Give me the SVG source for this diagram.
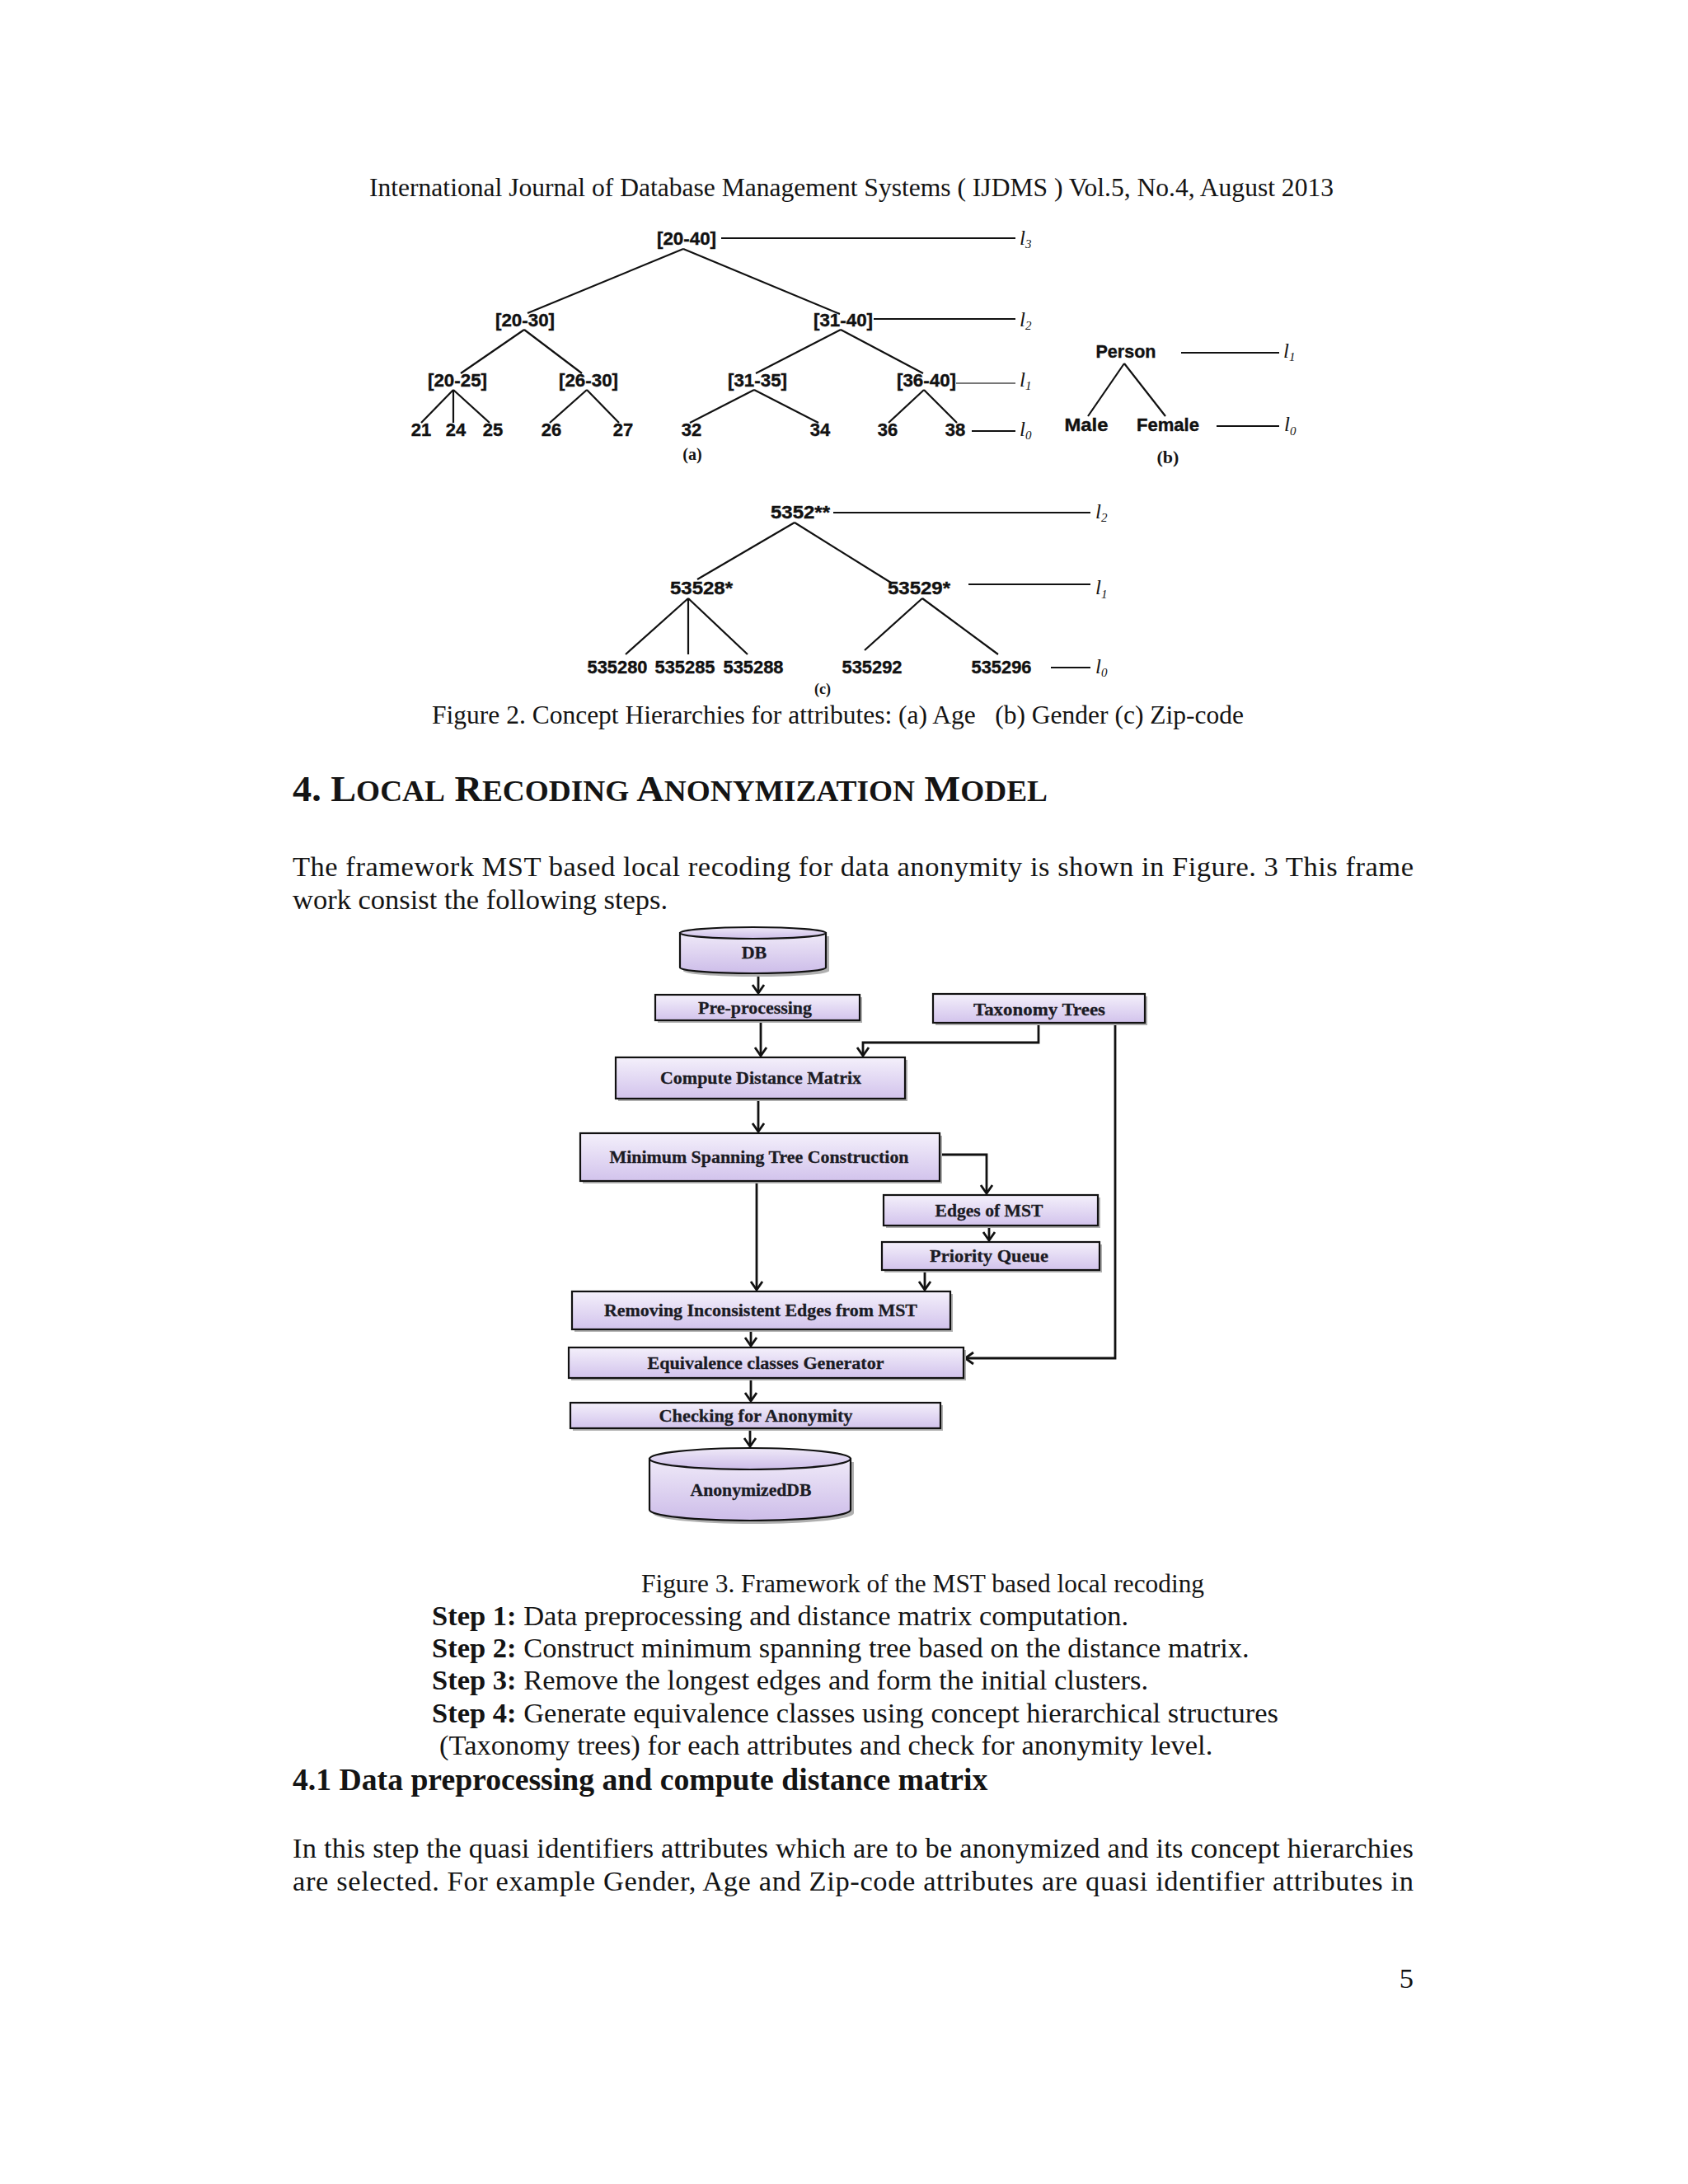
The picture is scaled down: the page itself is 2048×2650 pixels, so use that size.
<svg xmlns="http://www.w3.org/2000/svg" width="2048" height="2650" viewBox="0 0 2048 2650">
<style>
.tx{font-family:"Liberation Serif","Times New Roman",serif;fill:#141414}
.hd{font-size:31.4px}
.bd{font-size:34.5px}
.b{font-weight:bold}
.tl{font-family:"Liberation Sans",Arial,sans-serif;font-weight:bold;font-size:22px;text-anchor:middle;fill:#111;stroke:#111;stroke-width:0.4}
.lv{font-family:"Liberation Serif","Times New Roman",serif;font-style:italic;font-size:25px;fill:#151515}
.sub{font-size:15px}
.te{stroke:#111;stroke-width:2.2;fill:none}
.cap{font-family:"Liberation Serif","Times New Roman",serif;font-weight:bold;text-anchor:middle;fill:#151515}
.box{fill:url(#lav);stroke:#111;stroke-width:2.2}
.cyl{fill:url(#lav2);stroke:#111;stroke-width:2.2}
.shd{fill:#b0b0b0}
.bl{font-family:"Liberation Serif","Times New Roman",serif;font-weight:bold;font-size:22px;text-anchor:middle;fill:#1b1b24;stroke:#1b1b24;stroke-width:0.3}
.con{stroke:#111;stroke-width:2.8;fill:none;marker-end:url(#ah)}
</style>
<defs>
<linearGradient id="lav" x1="0" y1="0" x2="0" y2="1">
<stop offset="0" stop-color="#f4f0fb"/>
<stop offset="1" stop-color="#d2c3ec"/>
</linearGradient>
<linearGradient id="lav2" x1="0" y1="0" x2="0" y2="1">
<stop offset="0" stop-color="#efe9f8"/>
<stop offset="1" stop-color="#cdbde9"/>
</linearGradient>
<marker id="ah" markerUnits="userSpaceOnUse" markerWidth="16" markerHeight="18" refX="11" refY="8" orient="auto" overflow="visible">
<path d="M1,1 L11,8 L1,15" fill="none" stroke="#111" stroke-width="2.8"/>
</marker>
</defs>
<rect width="2048" height="2650" fill="#ffffff"/>

<!-- page text -->
<g id="page-text">
<text class="tx hd" x="448" y="238" textLength="1170" lengthAdjust="spacingAndGlyphs">International Journal of Database Management Systems ( IJDMS ) Vol.5, No.4, August 2013</text>
<text class="tx hd" x="524" y="878" textLength="985" lengthAdjust="spacingAndGlyphs">Figure 2. Concept Hierarchies for attributes: (a) Age&#160;&#160; (b) Gender (c) Zip-code</text>
<text class="tx b" x="355" y="972" font-size="44" textLength="916" lengthAdjust="spacingAndGlyphs">4. L<tspan font-size="35.5">OCAL</tspan> R<tspan font-size="35.5">ECODING</tspan> A<tspan font-size="35.5">NONYMIZATION</tspan> M<tspan font-size="35.5">ODEL</tspan></text>
<text class="tx bd" x="355" y="1063" textLength="1360" lengthAdjust="spacing">The framework MST based local recoding for data anonymity is shown in Figure. 3 This frame</text>
<text class="tx bd" x="355" y="1103">work consist the following steps.</text>
<text class="tx hd" x="778" y="1932" textLength="683" lengthAdjust="spacingAndGlyphs">Figure 3. Framework of the MST based local recoding</text>
<text class="tx bd" x="524" y="1972"><tspan class="b">Step 1:</tspan> Data preprocessing and distance matrix computation.</text>
<text class="tx bd" x="524" y="2011"><tspan class="b">Step 2:</tspan> Construct minimum spanning tree based on the distance matrix.</text>
<text class="tx bd" x="524" y="2050"><tspan class="b">Step 3:</tspan> Remove the longest edges and form the initial clusters.</text>
<text class="tx bd" x="524" y="2090"><tspan class="b">Step 4:</tspan> Generate equivalence classes using concept hierarchical structures</text>
<text class="tx bd" x="533" y="2129">(Taxonomy trees) for each attributes and check for anonymity level.</text>
<text class="tx b" x="355" y="2172" font-size="37.7">4.1 Data preprocessing and compute distance matrix</text>
<text class="tx bd" x="355" y="2254" textLength="1360" lengthAdjust="spacing">In this step the quasi identifiers attributes which are to be anonymized and its concept hierarchies</text>
<text class="tx bd" x="355" y="2294" textLength="1360" lengthAdjust="spacing">are selected. For example Gender, Age and Zip-code attributes are quasi identifier attributes in</text>
<text class="tx bd" x="1715" y="2412" text-anchor="end">5</text>
</g>

<!-- Figure 2 (a) -->
<g id="fig2a">
<g id="a-edges">
<path class="te" d="M829,302 L640,380 M829,302 L1019,381 M636,400 L559,453 M636,400 L706,453 M1020,400 L917,453 M1020,400 L1120,453 M550,473 L511,513 M550,473 L550,513 M550,473 L594,513 M712,473 L667,513 M712,473 L751,513 M915,473 L837,513 M915,473 L993,513 M1121,473 L1078,513 M1121,473 L1161,513"/>
<path class="te" d="M875,289 H1232 M1060,387 H1232 M1179,523 H1232"/>
<path d="M1160,465 H1232" stroke="#777" stroke-width="2"/>
</g>
<g id="a-n2040"><text class="tl" x="833" y="297" textLength="72" lengthAdjust="spacingAndGlyphs">[20-40]</text></g>
<g id="a-n2030"><text class="tl" x="637" y="396" textLength="72" lengthAdjust="spacingAndGlyphs">[20-30]</text></g>
<g id="a-n3140"><text class="tl" x="1023" y="396" textLength="72" lengthAdjust="spacingAndGlyphs">[31-40]</text></g>
<g id="a-n2025"><text class="tl" x="555" y="469" textLength="72" lengthAdjust="spacingAndGlyphs">[20-25]</text></g>
<g id="a-n2630"><text class="tl" x="714" y="469" textLength="72" lengthAdjust="spacingAndGlyphs">[26-30]</text></g>
<g id="a-n3135"><text class="tl" x="919" y="469" textLength="72" lengthAdjust="spacingAndGlyphs">[31-35]</text></g>
<g id="a-n3640"><text class="tl" x="1124" y="469" textLength="72" lengthAdjust="spacingAndGlyphs">[36-40]</text></g>
<g id="a-n21"><text class="tl" x="511" y="529">21</text></g>
<g id="a-n24"><text class="tl" x="553" y="529">24</text></g>
<g id="a-n25"><text class="tl" x="598" y="529">25</text></g>
<g id="a-n26"><text class="tl" x="669" y="529">26</text></g>
<g id="a-n27"><text class="tl" x="756" y="529">27</text></g>
<g id="a-n32"><text class="tl" x="839" y="529">32</text></g>
<g id="a-n34"><text class="tl" x="995" y="529">34</text></g>
<g id="a-n36"><text class="tl" x="1077" y="529">36</text></g>
<g id="a-n38"><text class="tl" x="1159" y="529">38</text></g>
<g id="a-levels">
<text class="lv" x="1237" y="297">l<tspan class="sub" dy="4">3</tspan></text>
<text class="lv" x="1237" y="396">l<tspan class="sub" dy="4">2</tspan></text>
<text class="lv" x="1237" y="469">l<tspan class="sub" dy="4">1</tspan></text>
<text class="lv" x="1237" y="529">l<tspan class="sub" dy="4">0</tspan></text>
</g>
<text class="cap" x="840" y="558" font-size="20">(a)</text>
</g>

<!-- Figure 2 (b) -->
<g id="fig2b">
<g id="b-edges">
<path class="te" d="M1364,441 L1320,505 M1364,441 L1414,505 M1433,428 H1552 M1476,517 H1552"/>
</g>
<g id="b-person"><text class="tl" x="1366" y="434" font-size="23" textLength="73" lengthAdjust="spacingAndGlyphs">Person</text></g>
<g id="b-male"><text class="tl" x="1318" y="523" font-size="23" textLength="53" lengthAdjust="spacingAndGlyphs">Male</text></g>
<g id="b-female"><text class="tl" x="1417" y="523" font-size="23" textLength="76" lengthAdjust="spacingAndGlyphs">Female</text></g>
<text class="lv" x="1557" y="434" font-size="27">l<tspan class="sub" font-size="17" dy="4">1</tspan></text>
<text class="lv" x="1558" y="523" font-size="27">l<tspan class="sub" font-size="17" dy="5">0</tspan></text>
<text class="cap" x="1417" y="562" font-size="22">(b)</text>
</g>

<!-- Figure 2 (c) -->
<g id="fig2c">
<g id="c-edges">
<path class="te" d="M964,634 L846,703 M964,634 L1081,707 M835,726 L759,794 M835,726 L835,794 M835,726 L907,794 M1119,726 L1049,789 M1119,726 L1211,794 M1011,622 H1323 M1175,709 H1323 M1275,810 H1323"/>
</g>
<g id="c-5352"><text class="tl" x="971" y="629" textLength="72" lengthAdjust="spacingAndGlyphs">5352**</text></g>
<g id="c-53528"><text class="tl" x="851" y="721" textLength="76" lengthAdjust="spacingAndGlyphs">53528*</text></g>
<g id="c-53529"><text class="tl" x="1115" y="721" textLength="76" lengthAdjust="spacingAndGlyphs">53529*</text></g>
<g id="c-535280"><text class="tl" x="749" y="817" textLength="73" lengthAdjust="spacingAndGlyphs">535280</text></g>
<g id="c-535285"><text class="tl" x="831" y="817" textLength="73" lengthAdjust="spacingAndGlyphs">535285</text></g>
<g id="c-535288"><text class="tl" x="914" y="817" textLength="73" lengthAdjust="spacingAndGlyphs">535288</text></g>
<g id="c-535292"><text class="tl" x="1058" y="817" textLength="73" lengthAdjust="spacingAndGlyphs">535292</text></g>
<g id="c-535296"><text class="tl" x="1215" y="817" textLength="73" lengthAdjust="spacingAndGlyphs">535296</text></g>
<text class="lv" x="1329" y="629">l<tspan class="sub" dy="4">2</tspan></text>
<text class="lv" x="1329" y="721">l<tspan class="sub" dy="5">1</tspan></text>
<text class="lv" x="1329" y="817">l<tspan class="sub" dy="4">0</tspan></text>
<text class="cap" x="998" y="842" font-size="18">(c)</text>
</g>

<!-- Figure 3 flowchart -->
<g id="fig3-connectors">
<path class="con" d="M920,1182 V1205"/>
<path class="con" d="M923,1239 V1281"/>
<path class="con" d="M1260,1242 V1265 H1047 V1281"/>
<path class="con" d="M920,1334 V1373"/>
<path class="con" d="M1141,1401 H1197 V1448"/>
<path class="con" d="M1200,1488 V1505"/>
<path class="con" d="M1122,1542 V1565"/>
<path class="con" d="M918,1434 V1565"/>
<path class="con" d="M911,1614 V1633"/>
<path class="con" d="M1353,1242 V1648 H1171"/>
<path class="con" d="M911,1673 V1700"/>
<path class="con" d="M910,1734 V1755"/>
</g>

<g id="db">
<path d="M829,1136 V1178 A88.5,7 0 0 0 1006,1178 V1136 Z" class="shd"/>
<path class="cyl" d="M825,1132 V1174 A88.5,7 0 0 0 1002,1174 V1132 Z"/>
<ellipse class="cyl" cx="913.5" cy="1132" rx="88.5" ry="7" fill="#f2edf9"/>
<text class="bl" x="915" y="1163">DB</text>
</g>

<g id="preprocessing">
<rect class="shd" x="798" y="1210" width="248" height="31"/>
<rect class="box" x="795" y="1207" width="248" height="31"/>
<text class="bl" x="916" y="1230" textLength="138" lengthAdjust="spacingAndGlyphs">Pre-processing</text>
</g>

<g id="taxonomy">
<rect class="shd" x="1135" y="1209" width="257" height="35"/>
<rect class="box" x="1132" y="1206" width="257" height="35"/>
<text class="bl" x="1261" y="1232" textLength="160" lengthAdjust="spacingAndGlyphs">Taxonomy Trees</text>
</g>

<g id="compute">
<rect class="shd" x="750" y="1286" width="351" height="50"/>
<rect class="box" x="747" y="1283" width="351" height="50"/>
<text class="bl" x="923" y="1315" textLength="244" lengthAdjust="spacingAndGlyphs">Compute Distance Matrix</text>
</g>

<g id="mst">
<rect class="shd" x="707" y="1378" width="436" height="58"/>
<rect class="box" x="704" y="1375" width="436" height="58"/>
<text class="bl" x="921" y="1411" textLength="363" lengthAdjust="spacingAndGlyphs">Minimum Spanning Tree Construction</text>
</g>

<g id="edges-mst">
<rect class="shd" x="1075" y="1453" width="260" height="37"/>
<rect class="box" x="1072" y="1450" width="260" height="37"/>
<text class="bl" x="1200" y="1476" textLength="131" lengthAdjust="spacingAndGlyphs">Edges of MST</text>
</g>

<g id="priority">
<rect class="shd" x="1073" y="1510" width="264" height="34"/>
<rect class="box" x="1070" y="1507" width="264" height="34"/>
<text class="bl" x="1200" y="1531" textLength="144" lengthAdjust="spacingAndGlyphs">Priority Queue</text>
</g>

<g id="removing">
<rect class="shd" x="697" y="1570" width="459" height="46"/>
<rect class="box" x="694" y="1567" width="459" height="46"/>
<text class="bl" x="923" y="1597" textLength="380" lengthAdjust="spacingAndGlyphs">Removing Inconsistent Edges from MST</text>
</g>

<g id="equivalence">
<rect class="shd" x="693" y="1638" width="479" height="37"/>
<rect class="box" x="690" y="1635" width="479" height="37"/>
<text class="bl" x="929" y="1661" textLength="287" lengthAdjust="spacingAndGlyphs">Equivalence classes Generator</text>
</g>

<g id="checking">
<rect class="shd" x="695" y="1705" width="449" height="31"/>
<rect class="box" x="692" y="1702" width="449" height="31"/>
<text class="bl" x="917" y="1725" textLength="235" lengthAdjust="spacingAndGlyphs">Checking for Anonymity</text>
</g>

<g id="anonymizeddb">
<path d="M792,1774 V1836 A122,13 0 0 0 1036,1836 V1774 Z" class="shd"/>
<path class="cyl" d="M788,1770 V1832 A122,13 0 0 0 1032,1832 V1770 Z"/>
<ellipse class="cyl" cx="910" cy="1770" rx="122" ry="13" fill="#f2edf9"/>
<text class="bl" x="911" y="1815" textLength="147" lengthAdjust="spacingAndGlyphs">AnonymizedDB</text>
</g>
</svg>
